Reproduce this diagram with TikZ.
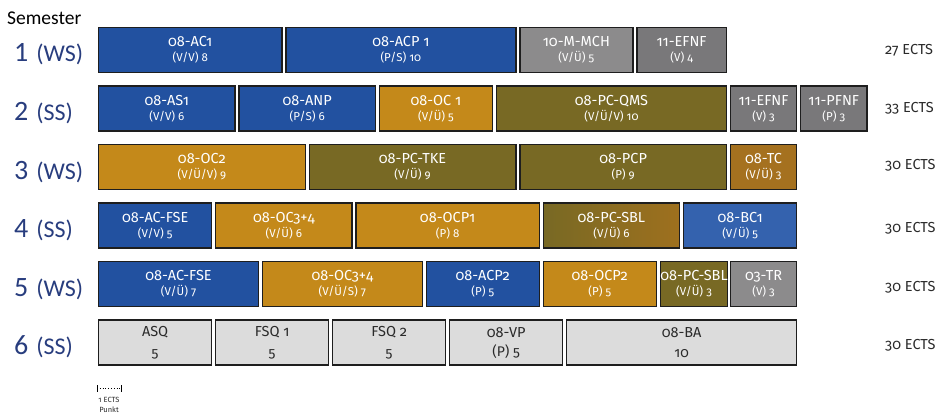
\documentclass[tikz,border=0pt]{standalone}
\usepackage{fontspec}
\setmainfont{Fira Sans}[Numbers=OldStyle]
\newfontfamily\semfont{Carlito}
\usetikzlibrary{positioning}

\definecolor{boxline}{HTML}{1E1E1E}
\definecolor{acblue}{HTML}{2251A0}
\definecolor{bcblue}{HTML}{3462AE}
\definecolor{ocgold}{HTML}{C4891A}
\definecolor{pcolive}{HTML}{786924}
\definecolor{tcbrown}{HTML}{A5711F}
\definecolor{sblbrown}{HTML}{9E701E}
\definecolor{nflight}{HTML}{8C8B8C}
\definecolor{nfdark}{HTML}{79787A}
\definecolor{sqfill}{HTML}{DCDCDC}
\definecolor{sqtext}{HTML}{2A2A2A}
\definecolor{semblue}{HTML}{283D7E}

\newcommand{\titlefont}{\fontsize{14.5}{16}\selectfont}
\newcommand{\subfont}{\fontsize{11.5}{13}\selectfont}
\newcommand{\sqsub}{\fontsize{14}{15}\selectfont\rule{0pt}{19pt}}

% name, row, start, ects, style, title, second line
\newcommand{\modul}[7]{%
  \node[modul, #5, minimum width={#4*23.4pt-4pt}] (#1) at ({98+#3*23.4},{27+(#2-1)*58.5}) {#6\\[-1pt]{\subfont #7}};%
}

\begin{document}
\begin{tikzpicture}[x=1pt, y=-1pt,
    modul/.style={draw=boxline, line width=1.3pt, anchor=north west, minimum height=45pt,
      inner sep=0pt, align=center, text=white, font=\titlefont},
    acbox/.style={fill=acblue},
    bcbox/.style={fill=bcblue},
    ocbox/.style={fill=ocgold},
    pcbox/.style={fill=pcolive},
    tcbox/.style={fill=tcbrown},
    sblbox/.style={left color=pcolive, right color=sblbrown},
    nfbox/.style={fill=nflight},
    nfdbox/.style={fill=nfdark},
    sqbox/.style={fill=sqfill, text=sqtext},
    semlabel/.style={anchor=base west, inner sep=0pt, text=semblue, font=\semfont},
    ectslabel/.style={anchor=base west, inner sep=0pt, text=sqtext, font=\fontsize{14.5}{16}\selectfont}
  ]
  \useasboundingbox (0,0) rectangle (942,419);

  \node[anchor=base west, inner sep=0pt, font=\semfont\fontsize{19.5}{21}\selectfont] (semester) at (7,25) {Semester};

  % semester labels and ECTS sums
  \foreach \r/\t/\y/\e in {1/WS/55/27, 2/SS/113/33, 3/WS/170/30, 4/SS/233/30, 5/WS/292/30, 6/SS/350/30} {
    \node[semlabel] (sem\r) at (14,{62+(\r-1)*58.6}) {{\fontsize{28}{28}\selectfont\r}\hspace{8pt}{\fontsize{24}{24}\selectfont(\t)}};
    \node[ectslabel] (ects\r) at (885,\y) {\e~ECTS};
  }

  % 1. Semester
  \modul{ac1}{1}{0}{8}{acbox}{08-AC1}{(V/V) 8}
  \modul{acp1}{1}{8}{10}{acbox}{08-ACP 1}{(P/S) 10}
  \modul{mch}{1}{18}{5}{nfbox}{10-M-MCH}{(V/Ü) 5}
  \modul{efnfa}{1}{23}{4}{nfdbox}{11-EFNF}{(V) 4}
  % 2. Semester
  \modul{as1}{2}{0}{6}{acbox}{08-AS1}{(V/V) 6}
  \modul{anp}{2}{6}{6}{acbox}{08-ANP}{(P/S) 6}
  \modul{oc1}{2}{12}{5}{ocbox}{08-OC 1}{(V/Ü) 5}
  \modul{qms}{2}{17}{10}{pcbox}{08-PC-QMS}{(V/Ü/V) 10}
  \modul{efnfb}{2}{27}{3}{nfdbox}{11-EFNF}{(V) 3}
  \modul{pfnf}{2}{30}{3}{nfdbox}{11-PFNF}{(P) 3}
  % 3. Semester
  \modul{oc2}{3}{0}{9}{ocbox}{08-OC2}{(V/Ü/V) 9}
  \modul{tke}{3}{9}{9}{pcbox}{08-PC-TKE}{(V/Ü) 9}
  \modul{pcp}{3}{18}{9}{pcbox}{08-PCP}{(P) 9}
  \modul{tc}{3}{27}{3}{tcbox}{08-TC}{(V/Ü) 3}
  % 4. Semester
  \modul{fsea}{4}{0}{5}{acbox}{08-AC-FSE}{(V/V) 5}
  \modul{ocva}{4}{5}{6}{ocbox}{08-OC3+4}{(V/Ü) 6}
  \modul{ocp1}{4}{11}{8}{ocbox}{08-OCP1}{(P) 8}
  \modul{sbla}{4}{19}{6}{sblbox}{08-PC-SBL}{(V/Ü) 6}
  \modul{bc1}{4}{25}{5}{bcbox}{08-BC1}{(V/Ü) 5}
  % 5. Semester
  \modul{fseb}{5}{0}{7}{acbox}{08-AC-FSE}{(V/Ü) 7}
  \modul{ocvb}{5}{7}{7}{ocbox}{08-OC3+4}{(V/Ü/S) 7}
  \modul{acp2}{5}{14}{5}{acbox}{08-ACP2}{(P) 5}
  \modul{ocp2}{5}{19}{5}{ocbox}{08-OCP2}{(P) 5}
  \modul{sblb}{5}{24}{3}{pcbox}{08-PC-SBL}{(V/Ü) 3}
  \modul{tr}{5}{27}{3}{nfbox}{03-TR}{(V) 3}
  % 6. Semester
  \modul{asq}{6}{0}{5}{sqbox}{ASQ}{\sqsub 5}
  \modul{fsqa}{6}{5}{5}{sqbox}{FSQ 1}{\sqsub 5}
  \modul{fsqb}{6}{10}{5}{sqbox}{FSQ 2}{\sqsub 5}
  \modul{vp}{6}{15}{5}{sqbox}{08-VP}{\sqsub (P) 5}
  \modul{ba}{6}{20}{10}{sqbox}{08-BA}{\sqsub 10}

  % scale: 1 ECTS
  \coordinate (scl) at (97,388);
  \coordinate (scr) at (121,388);
  \coordinate (scm) at (109,388);
  \draw[dotted, line width=0.8pt] (scl) -- (scr);
  \draw[line width=0.8pt] ([yshift=-3.5pt]scl) -- ([yshift=3.5pt]scl);
  \draw[line width=0.8pt] ([yshift=-3.5pt]scr) -- ([yshift=3.5pt]scr);
  \node[below=9pt of scm, inner sep=0pt, align=center, text=sqtext,
    font=\fontsize{7.5}{10}\selectfont] (sclabel) {1 ECTS\\Punkt};
\end{tikzpicture}
\end{document}
